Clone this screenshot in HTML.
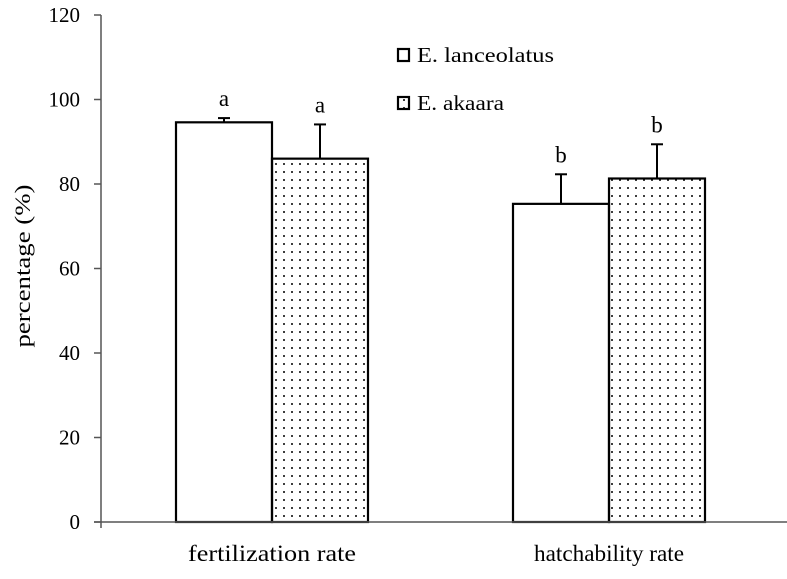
<!DOCTYPE html>
<html><head><meta charset="utf-8"><style>
body{margin:0;background:#fff}
text{font-family:"Liberation Serif",serif;fill:#000}
</style></head><body>
<svg width="787" height="574">
<defs><pattern id="dots" width="8" height="8" patternUnits="userSpaceOnUse"><circle cx="4" cy="4" r="1" fill="#000"/></pattern></defs>
<g id="chart"></g>
</svg>
<script>
const categories=["fertilization rate","hatchability rate"];
const lanceolatus=[94.6,75.3];
const lanceolatusErr=[1.0,7.0];
const akaara=[86.0,81.3];
const akaaraErr=[8.1,8.1];
const letters=[["a","a"],["b","b"]];
const yTicks=[0,20,40,60,80,100,120];
const NS="http://www.w3.org/2000/svg";
const g=document.getElementById('chart');
const y0=522,y120=15,xAxis=101,xEnd=787;
const ys=v=>y0-(v/120)*(y0-y120);
const groupCenters=[272,609],bw=96;
function mk(t,a,txt){const e=document.createElementNS(NS,t);for(const k in a)e.setAttribute(k,a[k]);if(txt!==undefined)e.textContent=txt;g.appendChild(e);return e;}
let e=mk('line',{x1:xAxis,y1:y120,x2:xAxis,y2:y0+6,stroke:'#555','stroke-width':1.5});

yTicks.forEach(v=>{
 e=mk('line',{x1:xAxis-7,y1:ys(v),x2:xAxis,y2:ys(v),stroke:'#555','stroke-width':1.5});
 
 e=mk('text',{x:xAxis-21,y:ys(v)+7,'text-anchor':'end','font-size':21},v);
 
});
e=mk('text',{x:0,y:0,'font-size':22,'text-anchor':'middle',textLength:163,lengthAdjust:'spacingAndGlyphs',transform:'translate(30,266) rotate(-90)'},'percentage (%)');

categories.forEach((c,i)=>{
 const cx=groupCenters[i];
 [[lanceolatus,lanceolatusErr,'#fff',cx-bw],[akaara,akaaraErr,'url(#dots)',cx]].forEach(([vals,errs,fill,x],j)=>{
  e=mk('rect',{x:x,y:ys(vals[i]),width:bw,height:y0-ys(vals[i]),fill:fill,stroke:'#000','stroke-width':2.2});
  
  const ex=x+bw/2, et=ys(vals[i]+errs[i]);
  e=mk('line',{x1:ex,y1:ys(vals[i]),x2:ex,y2:et,stroke:'#000','stroke-width':2});
  
  e=mk('line',{x1:ex-6,y1:et,x2:ex+6,y2:et,stroke:'#000','stroke-width':2});
  
  e=mk('text',{x:ex,y:et-12,'text-anchor':'middle','font-size':23},letters[i][j]);
  
 });
 e=mk('text',{x:cx,y:561,'text-anchor':'middle','font-size':23,textLength:i?150:168,lengthAdjust:'spacingAndGlyphs'},c);
 
});
e=mk('line',{x1:xAxis-7,y1:y0,x2:xEnd,y2:y0,stroke:'#555','stroke-width':1.5});

[['E. lanceolatus','#fff',49,137],['E. akaara','url(#dots)',97,87]].forEach(([n,f,yy,tl])=>{
 e=mk('rect',{x:398,y:yy,width:11,height:12,fill:f,stroke:'#000','stroke-width':2.2});
 
 e=mk('text',{x:417,y:yy+13,'font-size':21,textLength:tl,lengthAdjust:'spacingAndGlyphs'},n);
 
});
</script>
</body></html>
